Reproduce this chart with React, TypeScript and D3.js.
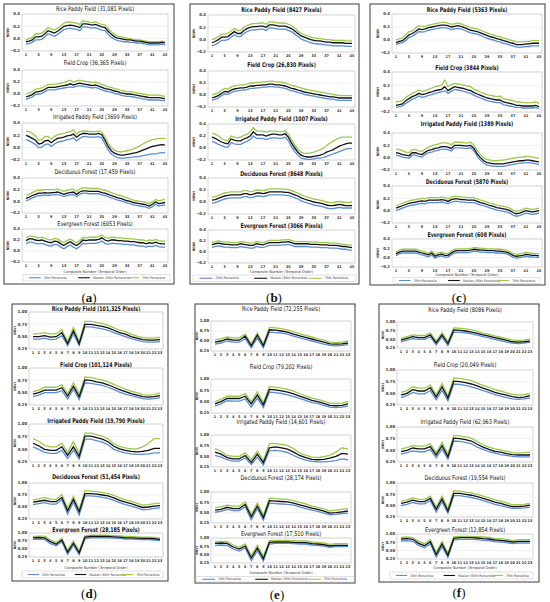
import React from 'react';
import * as d3 from 'd3';

// ---------- tick labels ----------
const X_TICKS_45 = [1, 5, 9, 13, 17, 21, 25, 29, 33, 37, 41, 45];
const X_TICKS_23 = [1, 2, 3, 4, 5, 6, 7, 8, 9, 10, 11, 12, 13, 14, 15, 16, 17, 18, 19, 20, 21, 22, 23];
const Y_TICKS_NDWI = [-0.2, 0.0, 0.2, 0.4];
const Y_TICKS_NDVI = [0.25, 0.5, 0.75, 1.0];

const CLASS_NAMES = ['Rice Paddy Field', 'Field Crop', 'Irrigated Paddy Field', 'Deciduous Forest', 'Evergreen Forest'];
const PIXELS_A = ['31,081', '36,365', '3699', '17,459', '6953'];
const PIXELS_B = ['8427', '26,830', '1007', '8648', '3066'];
const PIXELS_C = ['5363', '3844', '1389', '5870', '608'];
const PIXELS_D = ['101,325', '101,124', '19,790', '51,454', '28,185'];
const PIXELS_E = ['72,255', '79,202', '14,601', '28,174', '17,510'];
const PIXELS_F = ['8086', '20,049', '62,963', '19,554', '12,854'];

const LEGEND_LABELS = ['25th Percentile', 'Median (50th Percentile)', '75th Percentile'];

// ---------- panel (a) ----------
const aRice25 = [-0.09,-0.08,-0.06,-0.02,-0.02,-0.01,0.03,0.08,0.06,0.04,0.07,0.11,0.15,0.16,0.17,0.16,0.15,0.13,0.19,0.19,0.18,0.17,0.18,0.16,0.14,0.13,0.07,0.02,-0.01,-0.03,-0.04,-0.05,-0.05,-0.06,-0.06,-0.07,-0.07,-0.08,-0.09,-0.10,-0.10,-0.10,-0.10,-0.09,-0.10];
const aRice50 = [-0.05,-0.04,-0.02,0.03,0.03,0.04,0.08,0.13,0.11,0.09,0.12,0.16,0.20,0.21,0.22,0.21,0.20,0.18,0.24,0.24,0.23,0.22,0.23,0.21,0.19,0.18,0.12,0.07,0.03,0.01,0.00,-0.01,-0.02,-0.02,-0.03,-0.04,-0.04,-0.05,-0.06,-0.07,-0.07,-0.07,-0.07,-0.06,-0.07];
const aRice75 = [-0.02,0.00,0.02,0.08,0.08,0.09,0.13,0.18,0.16,0.14,0.17,0.21,0.25,0.27,0.27,0.26,0.25,0.23,0.29,0.28,0.27,0.26,0.27,0.25,0.23,0.22,0.16,0.11,0.07,0.04,0.03,0.02,0.01,0.00,-0.01,-0.02,-0.02,-0.03,-0.04,-0.05,-0.05,-0.05,-0.05,-0.04,-0.05];
const aCrop25 = [-0.09,-0.07,-0.05,-0.01,0.00,0.01,0.04,0.07,0.07,0.07,0.08,0.09,0.10,0.11,0.12,0.11,0.13,0.14,0.13,0.12,0.11,0.10,0.11,0.09,0.07,0.05,0.04,0.03,0.01,0.00,-0.02,-0.03,-0.04,-0.04,-0.05,-0.06,-0.07,-0.08,-0.09,-0.10,-0.10,-0.10,-0.10,-0.11,-0.11];
const aCrop50 = [-0.05,-0.03,-0.01,0.03,0.04,0.05,0.08,0.11,0.11,0.11,0.12,0.13,0.14,0.15,0.17,0.15,0.17,0.18,0.17,0.16,0.15,0.14,0.15,0.13,0.11,0.09,0.08,0.07,0.05,0.04,0.02,0.01,0.00,0.00,-0.01,-0.02,-0.03,-0.04,-0.05,-0.06,-0.06,-0.06,-0.06,-0.07,-0.08];
const aCrop75 = [0.00,0.02,0.04,0.08,0.09,0.10,0.13,0.16,0.16,0.16,0.17,0.18,0.19,0.21,0.23,0.20,0.22,0.23,0.22,0.21,0.20,0.19,0.20,0.18,0.16,0.14,0.12,0.11,0.09,0.08,0.06,0.05,0.04,0.04,0.03,0.02,0.01,0.00,-0.01,-0.02,-0.02,-0.02,-0.02,-0.03,-0.04];
const aIrr25 = [0.13,0.11,0.08,0.05,0.00,0.01,0.05,0.06,0.02,0.06,0.09,0.10,0.11,0.13,0.14,0.16,0.11,0.15,0.18,0.18,0.17,0.17,0.17,0.18,0.16,0.06,-0.04,-0.10,-0.14,-0.16,-0.17,-0.17,-0.16,-0.16,-0.15,-0.15,-0.14,-0.13,-0.12,-0.11,-0.10,-0.10,-0.09,-0.08,-0.08];
const aIrr50 = [0.20,0.18,0.15,0.12,0.06,0.07,0.11,0.12,0.08,0.12,0.15,0.16,0.17,0.19,0.20,0.22,0.17,0.21,0.23,0.23,0.22,0.22,0.22,0.23,0.21,0.12,0.02,-0.05,-0.09,-0.11,-0.12,-0.12,-0.11,-0.10,-0.09,-0.08,-0.06,-0.04,-0.02,0.00,0.02,0.03,0.04,0.05,0.04];
const aIrr75 = [0.27,0.26,0.23,0.19,0.12,0.13,0.18,0.18,0.14,0.18,0.21,0.22,0.23,0.25,0.26,0.29,0.22,0.26,0.27,0.27,0.26,0.26,0.26,0.27,0.25,0.17,0.07,0.00,-0.04,-0.06,-0.07,-0.06,-0.05,-0.04,-0.02,0.00,0.03,0.06,0.09,0.11,0.13,0.14,0.15,0.15,0.15];
const aDec25 = [0.01,0.03,0.06,0.08,0.10,0.10,0.11,0.10,0.11,0.11,0.12,0.10,0.08,0.10,0.11,0.12,0.08,0.12,0.14,0.14,0.13,0.13,0.13,0.13,0.11,0.10,0.08,0.06,0.04,0.02,0.01,-0.01,-0.03,-0.04,-0.06,-0.07,-0.08,-0.09,-0.10,-0.12,-0.09,-0.05,-0.08,-0.07,-0.06];
const aDec50 = [0.05,0.07,0.10,0.12,0.14,0.14,0.15,0.14,0.15,0.15,0.16,0.14,0.12,0.14,0.15,0.16,0.12,0.16,0.18,0.18,0.17,0.17,0.17,0.17,0.15,0.14,0.12,0.10,0.08,0.06,0.05,0.03,0.01,0.00,-0.02,-0.03,-0.04,-0.05,-0.06,-0.08,-0.05,-0.01,-0.04,-0.03,-0.02];
const aDec75 = [0.10,0.12,0.15,0.18,0.19,0.19,0.20,0.20,0.20,0.20,0.21,0.19,0.17,0.19,0.20,0.21,0.17,0.21,0.23,0.23,0.22,0.22,0.22,0.22,0.20,0.19,0.17,0.15,0.13,0.11,0.10,0.08,0.06,0.04,0.02,0.01,0.00,-0.01,-0.02,-0.04,-0.01,0.03,0.01,0.02,0.04];
const aEvg25 = [0.13,0.16,0.16,0.14,0.13,0.14,0.12,0.10,0.09,0.12,0.11,0.07,0.04,0.08,0.11,0.07,0.04,0.08,0.14,0.13,0.14,0.14,0.14,0.15,0.18,0.14,0.12,0.14,0.14,0.13,0.13,0.12,0.12,0.11,0.11,0.10,0.09,0.09,0.07,0.09,0.08,0.10,0.08,0.07,0.07];
const aEvg50 = [0.19,0.22,0.22,0.20,0.19,0.20,0.18,0.16,0.15,0.18,0.17,0.13,0.10,0.14,0.17,0.13,0.10,0.14,0.20,0.19,0.20,0.20,0.20,0.21,0.24,0.20,0.18,0.20,0.20,0.19,0.19,0.18,0.18,0.17,0.17,0.16,0.15,0.15,0.13,0.15,0.14,0.16,0.14,0.13,0.13];
const aEvg75 = [0.24,0.27,0.27,0.25,0.24,0.25,0.23,0.21,0.20,0.23,0.22,0.18,0.15,0.19,0.22,0.18,0.15,0.19,0.25,0.24,0.25,0.25,0.25,0.26,0.29,0.25,0.23,0.25,0.25,0.24,0.24,0.23,0.23,0.22,0.22,0.21,0.20,0.20,0.18,0.20,0.19,0.21,0.19,0.18,0.18];

// ---------- panel (b) ----------
const bRice25 = [-0.10,-0.08,-0.05,-0.01,-0.01,0.00,0.04,0.08,0.05,0.05,0.10,0.13,0.15,0.16,0.16,0.17,0.17,0.15,0.19,0.19,0.18,0.17,0.17,0.17,0.15,0.13,0.09,0.05,0.01,-0.01,-0.03,-0.05,-0.06,-0.07,-0.07,-0.08,-0.09,-0.09,-0.10,-0.10,-0.10,-0.10,-0.11,-0.11,-0.11];
const bRice50 = [-0.05,-0.03,0.00,0.04,0.04,0.05,0.09,0.13,0.10,0.10,0.15,0.18,0.20,0.21,0.21,0.22,0.22,0.20,0.24,0.24,0.23,0.22,0.22,0.22,0.20,0.18,0.14,0.10,0.06,0.04,0.02,0.00,-0.01,-0.02,-0.02,-0.03,-0.04,-0.04,-0.05,-0.05,-0.05,-0.05,-0.06,-0.06,-0.06];
const bRice75 = [0.00,0.02,0.05,0.09,0.09,0.10,0.14,0.18,0.15,0.15,0.20,0.23,0.25,0.26,0.26,0.27,0.27,0.25,0.29,0.29,0.28,0.27,0.27,0.27,0.25,0.23,0.19,0.14,0.10,0.08,0.06,0.04,0.03,0.02,0.02,0.01,0.00,0.00,-0.01,-0.01,-0.01,-0.01,-0.02,-0.02,-0.02];
const bCrop25 = [-0.09,-0.07,-0.05,-0.01,0.02,0.01,0.04,0.06,0.07,0.08,0.08,0.09,0.11,0.11,0.12,0.12,0.13,0.13,0.14,0.14,0.13,0.13,0.12,0.11,0.09,0.07,0.06,0.04,0.03,0.01,0.00,-0.01,-0.02,-0.03,-0.04,-0.05,-0.06,-0.07,-0.07,-0.08,-0.09,-0.09,-0.09,-0.09,-0.09];
const bCrop50 = [-0.05,-0.03,-0.01,0.03,0.06,0.05,0.08,0.10,0.11,0.12,0.12,0.13,0.15,0.15,0.16,0.16,0.17,0.17,0.18,0.18,0.17,0.17,0.16,0.15,0.13,0.11,0.10,0.08,0.07,0.05,0.04,0.03,0.02,0.01,0.00,-0.01,-0.02,-0.03,-0.03,-0.04,-0.05,-0.05,-0.05,-0.05,-0.05];
const bCrop75 = [0.00,0.02,0.04,0.08,0.11,0.10,0.13,0.15,0.16,0.17,0.17,0.18,0.20,0.20,0.21,0.21,0.22,0.22,0.23,0.23,0.22,0.22,0.21,0.20,0.18,0.16,0.15,0.13,0.12,0.10,0.09,0.08,0.07,0.06,0.05,0.04,0.03,0.02,0.01,0.00,-0.01,-0.01,-0.01,-0.01,-0.01];
const bIrr25 = [0.11,0.09,0.06,0.04,0.02,0.01,0.09,0.07,0.06,0.06,0.09,0.11,0.14,0.20,0.16,0.16,0.16,0.14,0.16,0.17,0.17,0.16,0.16,0.18,0.12,0.02,-0.06,-0.12,-0.17,-0.18,-0.19,-0.19,-0.18,-0.17,-0.17,-0.16,-0.14,-0.12,-0.10,-0.08,-0.06,-0.04,-0.02,-0.01,-0.01];
const bIrr50 = [0.18,0.16,0.13,0.10,0.08,0.07,0.15,0.13,0.12,0.12,0.15,0.17,0.20,0.27,0.22,0.22,0.22,0.20,0.22,0.23,0.23,0.22,0.22,0.24,0.18,0.08,0.00,-0.07,-0.12,-0.14,-0.15,-0.15,-0.14,-0.13,-0.12,-0.10,-0.07,-0.05,-0.03,0.00,0.03,0.05,0.07,0.08,0.08];
const bIrr75 = [0.25,0.23,0.20,0.16,0.13,0.12,0.20,0.18,0.17,0.18,0.21,0.23,0.27,0.34,0.28,0.28,0.28,0.26,0.28,0.28,0.28,0.27,0.27,0.29,0.23,0.13,0.05,-0.02,-0.07,-0.09,-0.09,-0.08,-0.07,-0.05,-0.03,0.00,0.04,0.08,0.11,0.14,0.17,0.18,0.18,0.18,0.18];
const bDec25 = [-0.02,-0.01,0.01,0.03,0.05,0.06,0.07,0.07,0.07,0.07,0.09,0.09,0.07,0.08,0.10,0.10,0.09,0.10,0.12,0.12,0.12,0.12,0.12,0.11,0.11,0.09,0.07,0.05,0.02,0.00,-0.02,-0.03,-0.05,-0.06,-0.07,-0.08,-0.10,-0.11,-0.11,-0.10,-0.09,-0.10,-0.10,-0.10,-0.10];
const bDec50 = [0.03,0.04,0.06,0.08,0.10,0.11,0.12,0.12,0.12,0.12,0.14,0.14,0.12,0.13,0.15,0.15,0.14,0.15,0.17,0.17,0.17,0.17,0.17,0.16,0.16,0.14,0.12,0.10,0.07,0.05,0.03,0.02,0.00,-0.01,-0.02,-0.03,-0.05,-0.06,-0.06,-0.05,-0.04,-0.05,-0.06,-0.06,-0.06];
const bDec75 = [0.08,0.09,0.11,0.13,0.15,0.16,0.17,0.17,0.17,0.17,0.19,0.19,0.17,0.18,0.20,0.20,0.19,0.20,0.22,0.22,0.22,0.22,0.22,0.21,0.21,0.19,0.17,0.15,0.12,0.10,0.08,0.07,0.05,0.04,0.03,0.02,0.00,-0.01,-0.01,0.00,0.01,0.00,-0.01,-0.01,0.00];
const bEvg25 = [0.08,0.10,0.11,0.10,0.09,0.09,0.08,0.08,0.08,0.10,0.09,0.08,0.07,0.07,0.10,0.09,0.08,0.10,0.12,0.12,0.12,0.12,0.13,0.13,0.14,0.12,0.10,0.10,0.10,0.10,0.10,0.09,0.09,0.09,0.08,0.08,0.08,0.07,0.07,0.07,0.06,0.05,0.05,0.04,0.03];
const bEvg50 = [0.13,0.15,0.16,0.15,0.14,0.14,0.13,0.13,0.13,0.15,0.14,0.13,0.12,0.12,0.15,0.14,0.13,0.15,0.17,0.17,0.17,0.17,0.18,0.18,0.19,0.17,0.15,0.15,0.15,0.15,0.15,0.14,0.14,0.14,0.13,0.13,0.13,0.12,0.12,0.12,0.11,0.10,0.10,0.09,0.08];
const bEvg75 = [0.17,0.19,0.20,0.19,0.18,0.18,0.17,0.17,0.17,0.19,0.18,0.17,0.16,0.16,0.19,0.18,0.17,0.19,0.21,0.21,0.21,0.21,0.22,0.22,0.23,0.21,0.19,0.19,0.19,0.19,0.19,0.18,0.18,0.18,0.17,0.17,0.17,0.16,0.16,0.16,0.15,0.14,0.14,0.13,0.12];

// ---------- panel (c) ----------
const cRice25 = [-0.07,-0.05,-0.04,-0.01,0.04,0.06,0.09,0.13,0.12,0.13,0.15,0.16,0.17,0.18,0.19,0.19,0.18,0.16,0.17,0.18,0.17,0.15,0.13,0.11,0.10,0.09,0.07,0.05,0.03,0.01,0.00,-0.02,-0.03,-0.05,-0.06,-0.08,-0.09,-0.11,-0.11,-0.11,-0.10,-0.10,-0.09,-0.09,-0.09];
const cRice50 = [-0.04,-0.02,-0.01,0.03,0.08,0.10,0.13,0.17,0.16,0.17,0.19,0.20,0.21,0.22,0.23,0.23,0.22,0.20,0.21,0.22,0.21,0.19,0.17,0.15,0.14,0.13,0.11,0.09,0.07,0.05,0.04,0.02,0.01,-0.01,-0.02,-0.04,-0.05,-0.07,-0.07,-0.07,-0.06,-0.06,-0.05,-0.05,-0.05];
const cRice75 = [0.00,0.02,0.03,0.08,0.13,0.14,0.18,0.22,0.21,0.21,0.23,0.24,0.25,0.26,0.27,0.27,0.26,0.24,0.25,0.26,0.25,0.23,0.21,0.19,0.18,0.17,0.15,0.13,0.11,0.09,0.08,0.06,0.05,0.03,0.02,0.00,-0.01,-0.03,-0.03,-0.03,-0.02,-0.02,-0.01,-0.01,-0.01];
const cCrop25 = [-0.13,-0.12,-0.11,-0.07,-0.04,-0.01,0.01,0.04,0.02,0.03,0.05,0.06,0.08,0.09,0.10,0.12,0.08,0.11,0.14,0.13,0.12,0.11,0.09,0.08,0.05,0.03,0.01,-0.01,-0.03,-0.04,-0.05,-0.06,-0.06,-0.09,-0.10,-0.11,-0.12,-0.13,-0.13,-0.14,-0.14,-0.14,-0.14,-0.13,-0.15];
const cCrop50 = [-0.10,-0.09,-0.08,-0.03,0.00,0.03,0.05,0.08,0.06,0.07,0.09,0.10,0.12,0.13,0.14,0.18,0.12,0.15,0.18,0.17,0.16,0.15,0.13,0.12,0.09,0.07,0.05,0.03,0.01,0.00,-0.01,-0.02,-0.02,-0.05,-0.06,-0.07,-0.08,-0.10,-0.10,-0.11,-0.11,-0.11,-0.11,-0.10,-0.12];
const cCrop75 = [-0.05,-0.04,-0.03,0.02,0.05,0.08,0.10,0.13,0.11,0.12,0.14,0.16,0.18,0.19,0.20,0.28,0.18,0.21,0.23,0.22,0.21,0.20,0.19,0.18,0.14,0.12,0.10,0.08,0.06,0.05,0.04,0.03,0.04,0.00,-0.01,-0.02,-0.03,-0.05,-0.05,-0.06,-0.06,-0.06,-0.06,-0.05,-0.07];
const cIrr25 = [0.04,0.03,0.01,0.00,-0.01,0.04,0.04,0.02,0.01,0.05,0.08,0.09,0.11,0.12,0.14,0.14,0.13,0.11,0.16,0.16,0.16,0.15,0.15,0.16,0.11,0.02,-0.04,-0.09,-0.12,-0.13,-0.14,-0.14,-0.14,-0.14,-0.13,-0.12,-0.11,-0.10,-0.09,-0.09,-0.08,-0.08,-0.09,-0.10,-0.11];
const cIrr50 = [0.08,0.07,0.05,0.04,0.03,0.08,0.08,0.06,0.05,0.09,0.12,0.13,0.15,0.16,0.18,0.18,0.17,0.15,0.20,0.20,0.20,0.19,0.19,0.20,0.15,0.06,0.00,-0.05,-0.08,-0.09,-0.10,-0.10,-0.10,-0.10,-0.09,-0.08,-0.07,-0.06,-0.05,-0.05,-0.04,-0.04,-0.05,-0.06,-0.07];
const cIrr75 = [0.14,0.13,0.11,0.09,0.08,0.13,0.13,0.11,0.10,0.14,0.17,0.19,0.21,0.22,0.24,0.24,0.23,0.21,0.25,0.25,0.25,0.24,0.24,0.25,0.20,0.11,0.05,0.00,-0.03,-0.04,-0.05,-0.05,-0.04,-0.04,-0.03,-0.02,-0.01,0.00,0.01,0.01,0.02,0.02,0.01,0.00,-0.01];
const cDec25 = [0.00,0.02,0.04,0.06,0.08,0.09,0.10,0.11,0.12,0.11,0.13,0.13,0.13,0.13,0.14,0.13,0.11,0.14,0.15,0.15,0.14,0.14,0.13,0.13,0.13,0.11,0.09,0.08,0.06,0.04,0.03,0.01,0.00,-0.01,-0.02,-0.04,-0.07,-0.09,-0.08,-0.06,-0.04,-0.05,-0.06,-0.05,-0.04];
const cDec50 = [0.04,0.06,0.08,0.10,0.12,0.13,0.14,0.15,0.16,0.15,0.17,0.17,0.17,0.17,0.18,0.17,0.15,0.18,0.19,0.19,0.18,0.18,0.17,0.17,0.17,0.15,0.13,0.12,0.10,0.08,0.07,0.05,0.04,0.03,0.02,0.00,-0.03,-0.05,-0.04,-0.02,0.00,-0.01,-0.02,-0.01,0.00];
const cDec75 = [0.08,0.10,0.12,0.14,0.16,0.17,0.18,0.19,0.20,0.19,0.21,0.21,0.21,0.21,0.22,0.21,0.19,0.22,0.23,0.23,0.22,0.22,0.21,0.21,0.21,0.19,0.17,0.16,0.14,0.12,0.11,0.09,0.08,0.07,0.06,0.04,0.01,-0.01,0.00,0.02,0.04,0.03,0.02,0.03,0.04];
const cEvg25 = [0.04,0.08,0.10,0.10,0.10,0.10,0.10,0.08,0.06,0.04,0.02,0.06,-0.01,0.02,0.04,0.01,0.01,0.06,0.10,0.11,0.11,0.11,0.11,0.12,0.14,0.13,0.12,0.12,0.11,0.11,0.11,0.10,0.10,0.09,0.08,0.05,0.01,-0.01,0.00,0.01,0.03,0.02,0.01,0.01,0.00];
const cEvg50 = [0.08,0.12,0.14,0.14,0.14,0.14,0.14,0.12,0.10,0.08,0.06,0.10,0.03,0.06,0.08,0.05,0.05,0.10,0.14,0.15,0.15,0.15,0.15,0.16,0.18,0.17,0.16,0.16,0.15,0.15,0.15,0.14,0.14,0.13,0.12,0.09,0.05,0.03,0.04,0.05,0.07,0.06,0.05,0.05,0.04];
const cEvg75 = [0.12,0.16,0.18,0.18,0.18,0.18,0.18,0.16,0.14,0.12,0.10,0.14,0.07,0.10,0.12,0.09,0.09,0.14,0.18,0.19,0.19,0.19,0.19,0.20,0.22,0.21,0.20,0.20,0.19,0.19,0.19,0.18,0.18,0.17,0.16,0.13,0.09,0.07,0.08,0.09,0.11,0.10,0.09,0.09,0.08];

// ---------- panel (d) ----------
const dRice25 = [0.45,0.45,0.47,0.44,0.45,0.52,0.32,0.56,0.32,0.70,0.70,0.68,0.66,0.63,0.58,0.54,0.50,0.46,0.43,0.40,0.39,0.39,0.40];
const dRice50 = [0.50,0.50,0.52,0.49,0.50,0.58,0.36,0.62,0.36,0.75,0.75,0.73,0.71,0.68,0.63,0.58,0.55,0.50,0.47,0.44,0.43,0.43,0.44];
const dRice75 = [0.55,0.56,0.58,0.55,0.56,0.64,0.40,0.68,0.40,0.81,0.81,0.79,0.77,0.73,0.68,0.63,0.60,0.55,0.51,0.48,0.47,0.47,0.48];
const dCrop25 = [0.42,0.45,0.50,0.50,0.50,0.54,0.37,0.57,0.36,0.70,0.69,0.67,0.65,0.61,0.56,0.51,0.47,0.44,0.41,0.38,0.37,0.38,0.40];
const dCrop50 = [0.47,0.50,0.55,0.55,0.55,0.60,0.43,0.63,0.42,0.76,0.75,0.72,0.70,0.66,0.61,0.56,0.52,0.48,0.45,0.42,0.41,0.42,0.44];
const dCrop75 = [0.52,0.55,0.61,0.61,0.61,0.66,0.48,0.70,0.47,0.82,0.81,0.78,0.76,0.72,0.67,0.62,0.57,0.53,0.50,0.46,0.45,0.46,0.49];
const dIrr25 = [0.55,0.50,0.44,0.42,0.42,0.48,0.32,0.48,0.31,0.70,0.70,0.67,0.64,0.59,0.50,0.46,0.43,0.41,0.40,0.40,0.41,0.43,0.43];
const dIrr50 = [0.62,0.57,0.50,0.48,0.48,0.55,0.38,0.55,0.36,0.76,0.76,0.73,0.70,0.65,0.56,0.51,0.48,0.46,0.45,0.46,0.48,0.52,0.52];
const dIrr75 = [0.71,0.66,0.58,0.55,0.55,0.62,0.44,0.65,0.42,0.82,0.82,0.79,0.76,0.71,0.61,0.56,0.53,0.51,0.51,0.55,0.62,0.71,0.71];
const dDec25 = [0.55,0.57,0.59,0.56,0.56,0.65,0.35,0.60,0.33,0.73,0.73,0.72,0.70,0.68,0.64,0.59,0.55,0.52,0.48,0.44,0.45,0.47,0.48];
const dDec50 = [0.60,0.62,0.64,0.61,0.61,0.70,0.42,0.66,0.40,0.78,0.78,0.77,0.75,0.73,0.69,0.64,0.60,0.57,0.53,0.49,0.50,0.52,0.53];
const dDec75 = [0.65,0.67,0.70,0.66,0.66,0.76,0.48,0.72,0.45,0.84,0.83,0.82,0.80,0.78,0.74,0.69,0.65,0.62,0.58,0.54,0.55,0.57,0.58];
const dEvg25 = [0.80,0.81,0.80,0.67,0.60,0.73,0.33,0.62,0.32,0.82,0.85,0.85,0.85,0.85,0.84,0.83,0.81,0.81,0.80,0.79,0.79,0.78,0.76];
const dEvg50 = [0.85,0.86,0.85,0.73,0.65,0.78,0.40,0.68,0.38,0.87,0.89,0.89,0.89,0.89,0.88,0.87,0.85,0.85,0.84,0.83,0.83,0.82,0.80];
const dEvg75 = [0.89,0.90,0.90,0.79,0.71,0.83,0.46,0.75,0.45,0.91,0.93,0.93,0.93,0.93,0.92,0.91,0.89,0.89,0.88,0.87,0.87,0.86,0.84];

// ---------- panel (e) ----------
const eRice25 = [0.42,0.45,0.50,0.47,0.47,0.56,0.33,0.58,0.33,0.72,0.71,0.70,0.67,0.62,0.58,0.54,0.50,0.46,0.42,0.39,0.38,0.39,0.41];
const eRice50 = [0.47,0.50,0.55,0.52,0.52,0.62,0.38,0.65,0.38,0.78,0.77,0.75,0.72,0.67,0.63,0.59,0.55,0.51,0.47,0.43,0.42,0.43,0.45];
const eRice75 = [0.53,0.56,0.60,0.58,0.58,0.67,0.43,0.70,0.43,0.84,0.83,0.81,0.78,0.73,0.68,0.64,0.60,0.56,0.52,0.47,0.46,0.47,0.50];
const eCrop25 = [0.40,0.45,0.52,0.51,0.51,0.56,0.38,0.58,0.37,0.71,0.70,0.68,0.65,0.61,0.57,0.53,0.48,0.46,0.42,0.38,0.37,0.38,0.40];
const eCrop50 = [0.45,0.50,0.57,0.57,0.57,0.62,0.45,0.65,0.43,0.77,0.76,0.74,0.71,0.67,0.62,0.58,0.53,0.50,0.46,0.42,0.41,0.42,0.45];
const eCrop75 = [0.50,0.55,0.62,0.62,0.62,0.68,0.50,0.72,0.48,0.83,0.82,0.80,0.77,0.73,0.68,0.63,0.58,0.55,0.51,0.47,0.46,0.47,0.50];
const eIrr25 = [0.52,0.48,0.42,0.39,0.39,0.46,0.31,0.48,0.30,0.63,0.64,0.62,0.59,0.52,0.46,0.41,0.38,0.37,0.37,0.38,0.40,0.44,0.42];
const eIrr50 = [0.60,0.55,0.47,0.44,0.44,0.52,0.36,0.55,0.35,0.70,0.72,0.70,0.67,0.60,0.52,0.47,0.43,0.42,0.43,0.46,0.50,0.57,0.55];
const eIrr75 = [0.68,0.62,0.52,0.50,0.50,0.58,0.42,0.62,0.40,0.80,0.80,0.78,0.75,0.68,0.58,0.53,0.48,0.47,0.49,0.53,0.60,0.70,0.67];
const eDec25 = [0.51,0.53,0.58,0.55,0.55,0.64,0.33,0.60,0.32,0.73,0.72,0.71,0.70,0.68,0.64,0.60,0.56,0.53,0.49,0.45,0.46,0.48,0.49];
const eDec50 = [0.56,0.58,0.63,0.60,0.60,0.70,0.40,0.66,0.38,0.79,0.78,0.77,0.76,0.73,0.69,0.65,0.61,0.58,0.54,0.49,0.50,0.52,0.54];
const eDec75 = [0.62,0.64,0.68,0.66,0.66,0.76,0.46,0.73,0.44,0.85,0.84,0.83,0.82,0.79,0.75,0.71,0.66,0.63,0.59,0.54,0.56,0.58,0.60];
const eEvg25 = [0.78,0.79,0.78,0.67,0.61,0.70,0.32,0.62,0.31,0.82,0.84,0.84,0.84,0.83,0.82,0.82,0.79,0.78,0.76,0.72,0.74,0.74,0.74];
const eEvg50 = [0.84,0.85,0.84,0.73,0.67,0.76,0.40,0.70,0.38,0.87,0.88,0.88,0.88,0.87,0.86,0.86,0.83,0.82,0.80,0.76,0.78,0.78,0.78];
const eEvg75 = [0.89,0.90,0.89,0.79,0.72,0.82,0.47,0.78,0.45,0.92,0.93,0.93,0.93,0.92,0.91,0.91,0.88,0.87,0.85,0.81,0.83,0.83,0.83];

// ---------- panel (f) ----------
const fRice25 = [0.43,0.48,0.52,0.50,0.50,0.57,0.34,0.57,0.32,0.71,0.70,0.69,0.66,0.62,0.58,0.54,0.50,0.46,0.42,0.39,0.38,0.39,0.41];
const fRice50 = [0.48,0.53,0.58,0.55,0.55,0.63,0.40,0.63,0.38,0.77,0.76,0.74,0.71,0.67,0.63,0.59,0.55,0.51,0.47,0.43,0.42,0.43,0.45];
const fRice75 = [0.53,0.58,0.63,0.61,0.61,0.69,0.45,0.69,0.44,0.83,0.82,0.80,0.77,0.73,0.68,0.64,0.60,0.56,0.52,0.48,0.47,0.48,0.51];
const fCrop25 = [0.41,0.45,0.52,0.49,0.49,0.56,0.36,0.57,0.34,0.70,0.69,0.67,0.64,0.60,0.56,0.52,0.47,0.44,0.41,0.38,0.37,0.38,0.40];
const fCrop50 = [0.46,0.50,0.58,0.55,0.55,0.62,0.42,0.64,0.40,0.76,0.75,0.73,0.70,0.66,0.61,0.57,0.52,0.49,0.46,0.43,0.41,0.42,0.45];
const fCrop75 = [0.52,0.56,0.64,0.61,0.61,0.68,0.47,0.71,0.45,0.83,0.82,0.80,0.77,0.72,0.67,0.63,0.58,0.55,0.51,0.48,0.46,0.47,0.50];
const fIrr25 = [0.42,0.45,0.49,0.47,0.47,0.52,0.34,0.53,0.31,0.70,0.69,0.67,0.64,0.57,0.52,0.47,0.44,0.41,0.39,0.37,0.36,0.36,0.36];
const fIrr50 = [0.47,0.50,0.55,0.53,0.53,0.58,0.40,0.60,0.36,0.76,0.75,0.73,0.70,0.63,0.57,0.52,0.48,0.46,0.43,0.41,0.40,0.40,0.40];
const fIrr75 = [0.53,0.56,0.60,0.59,0.59,0.64,0.45,0.67,0.42,0.82,0.81,0.79,0.76,0.69,0.62,0.57,0.53,0.51,0.48,0.45,0.44,0.45,0.46];
const fDec25 = [0.50,0.53,0.57,0.54,0.54,0.61,0.36,0.59,0.33,0.72,0.72,0.70,0.68,0.65,0.61,0.57,0.53,0.50,0.47,0.44,0.44,0.45,0.47];
const fDec50 = [0.55,0.58,0.62,0.59,0.59,0.66,0.42,0.65,0.38,0.77,0.77,0.75,0.73,0.70,0.66,0.62,0.58,0.55,0.51,0.48,0.48,0.49,0.51];
const fDec75 = [0.60,0.63,0.67,0.64,0.64,0.71,0.47,0.71,0.44,0.83,0.82,0.80,0.78,0.75,0.71,0.67,0.63,0.60,0.56,0.52,0.52,0.53,0.55];
const fEvg25 = [0.79,0.80,0.78,0.66,0.59,0.71,0.31,0.62,0.30,0.82,0.84,0.84,0.84,0.83,0.81,0.80,0.77,0.76,0.74,0.71,0.73,0.73,0.73];
const fEvg50 = [0.85,0.86,0.84,0.72,0.65,0.77,0.38,0.70,0.36,0.87,0.89,0.89,0.89,0.88,0.86,0.85,0.82,0.81,0.79,0.76,0.78,0.78,0.78];
const fEvg75 = [0.90,0.91,0.89,0.78,0.71,0.83,0.45,0.78,0.43,0.92,0.93,0.93,0.93,0.92,0.91,0.90,0.87,0.86,0.84,0.81,0.83,0.83,0.83];

// ---------- styling ----------
const C25 = '#5a8dd3';
const C50 = '#111111';
const C75 = '#9cc84e';
const SANS = "'Liberation Sans Narrow', 'DejaVu Sans Condensed', 'Roboto Condensed', Arial, sans-serif";
const SERIF = "'Liberation Serif', 'DejaVu Serif', serif";

type Series = [number[], number[], number[]];
type Layout = {
  label: string;
  box: [number, number, number, number];
  plotL: number;
  plotR: number;
  rows: [number, number, number][]; // titleY, plotTop, plotBottom
  xlabelY: number;
  legend: [number, number, number, number]; // x0, y0, x1, y1
  labelXY: [number, number];
  titleWeight: string;
  titleScale: number;
};

type PanelDef = {
  layout: Layout;
  kind: 'ndwi' | 'ndvi';
  pixels: string[];
  series: Series[];
};

const PANELS: PanelDef[] = [
  {
    kind: 'ndwi', pixels: PIXELS_A,
    series: [[aRice25, aRice50, aRice75], [aCrop25, aCrop50, aCrop75], [aIrr25, aIrr50, aIrr75], [aDec25, aDec50, aDec75], [aEvg25, aEvg50, aEvg75]],
    layout: { label: 'a', box: [4, 4, 174, 284], plotL: 22, plotR: 168,
      rows: [[9, 14, 51], [63, 70, 106], [117, 123, 160], [172, 178, 213], [224, 229, 262]],
      xlabelY: 272, legend: [23, 274.5, 170, 281], labelXY: [89, 297], titleWeight: 'normal', titleScale: 0.86 },
  },
  {
    kind: 'ndwi', pixels: PIXELS_B,
    series: [[bRice25, bRice50, bRice75], [bCrop25, bCrop50, bCrop75], [bIrr25, bIrr50, bIrr75], [bDec25, bDec50, bDec75], [bEvg25, bEvg50, bEvg75]],
    layout: { label: 'b', box: [190, 4, 359, 284], plotL: 208, plotR: 355,
      rows: [[10, 15, 52], [65, 71, 107], [119, 124, 160], [174, 178, 214], [226, 230, 263]],
      xlabelY: 272, legend: [193, 275, 356, 281.5], labelXY: [274, 297], titleWeight: 'bold', titleScale: 0.82 },
  },
  {
    kind: 'ndwi', pixels: PIXELS_C,
    series: [[cRice25, cRice50, cRice75], [cCrop25, cCrop50, cCrop75], [cIrr25, cIrr50, cIrr75], [cDec25, cDec50, cDec75], [cEvg25, cEvg50, cEvg75]],
    layout: { label: 'c', box: [370, 4, 545, 285], plotL: 392, plotR: 542,
      rows: [[10, 14, 53], [68, 72, 112], [124, 133, 170], [182, 186, 223], [235, 239, 267]],
      xlabelY: 275, legend: [393, 277.5, 540, 283.5], labelXY: [459, 297], titleWeight: 'bold', titleScale: 0.82 },
  },
  {
    kind: 'ndvi', pixels: PIXELS_D,
    series: [[dRice25, dRice50, dRice75], [dCrop25, dCrop50, dCrop75], [dIrr25, dIrr50, dIrr75], [dDec25, dDec50, dDec75], [dEvg25, dEvg50, dEvg75]],
    layout: { label: 'd', box: [12, 304, 168, 581], plotL: 29, plotR: 163,
      rows: [[309, 312, 349], [365, 368, 405], [421, 424, 462], [477, 483, 519], [529.5, 533, 557]],
      xlabelY: 568, legend: [22, 571, 163, 578], labelXY: [89, 593], titleWeight: '600', titleScale: 0.82 },
  },
  {
    kind: 'ndvi', pixels: PIXELS_E,
    series: [[eRice25, eRice50, eRice75], [eCrop25, eCrop50, eCrop75], [eIrr25, eIrr50, eIrr75], [eDec25, eDec50, eDec75], [eEvg25, eEvg50, eEvg75]],
    layout: { label: 'e', box: [195, 304, 355, 583], plotL: 211, plotR: 351,
      rows: [[309, 321, 351], [367, 379, 413], [422, 435, 467], [478, 492, 523], [534, 538, 563]],
      xlabelY: 573, legend: [196, 576.5, 354, 582], labelXY: [277, 594], titleWeight: 'normal', titleScale: 0.86 },
  },
  {
    kind: 'ndvi', pixels: PIXELS_F,
    series: [[fRice25, fRice50, fRice75], [fCrop25, fCrop50, fCrop75], [fIrr25, fIrr50, fIrr75], [fDec25, fDec50, fDec75], [fEvg25, fEvg50, fEvg75]],
    layout: { label: 'f', box: [379, 304, 539, 582], plotL: 397, plotR: 533,
      rows: [[310, 322, 348], [365, 370, 405], [422, 427, 462], [478, 483, 517], [530, 534, 559]],
      xlabelY: 568, legend: [390, 572, 533, 579], labelXY: [459, 592], titleWeight: 'normal', titleScale: 0.86 },
  },
];

function Subplot({ def, idx }: { def: PanelDef; idx: number }) {
  const L = def.layout;
  const [titleY, top, bottom] = L.rows[idx];
  const isW = def.kind === 'ndwi';
  const n = isW ? 45 : 23;
  const xTicks = isW ? X_TICKS_45 : X_TICKS_23;
  const yTicks = isW ? Y_TICKS_NDWI : Y_TICKS_NDVI;
  const fmt = d3.format(isW ? '.1f' : '.2f');
  const x = d3.scaleLinear().domain([1, n]).range([L.plotL + 4, L.plotR - 3]);
  const y = d3.scaleLinear().domain(isW ? [-0.2, 0.4] : [0.25, 1.0]).range([bottom, top]);
  const line = d3.line<number>().x((_, i) => x(i + 1)).y((v) => y(v));
  const [s25, s50, s75] = def.series[idx];
  const cx = (L.plotL + L.plotR) / 2;
  return (
    <g>
      <text transform={`translate(${cx},${titleY}) scale(${L.titleScale},1)`} dy="0.35em" textAnchor="middle" fontFamily={SANS} fontSize={6.4}
        fontWeight={L.titleWeight} fill="#111">
        {`${CLASS_NAMES[idx]} (${def.pixels[idx]} Pixels)`}
      </text>
      <rect x={L.plotL} y={top} width={L.plotR - L.plotL} height={bottom - top} fill="#fff" stroke="#b9b9b9" strokeWidth={0.6} />
      {yTicks.map((t) => (
        <g key={t}>
          <line x1={L.plotL} x2={L.plotR} y1={y(t)} y2={y(t)} stroke="#e2e2e2" strokeWidth={0.5} />
          <text x={L.plotL - 2} y={y(t)} dy="0.35em" textAnchor="end" fontFamily={SANS} fontSize={4.2} fontWeight="bold" fill="#333">
            {fmt(t)}
          </text>
        </g>
      ))}
      {xTicks.map((t) => (
        <text key={t} x={x(t)} y={bottom + 4} dy="0.35em" textAnchor="middle" fontFamily={SANS} fontSize={3.8} fontWeight="bold" fill="#333">
          {t}
        </text>
      ))}
      <text transform={`translate(${L.plotL - 14},${(top + bottom) / 2}) rotate(-90)`} textAnchor="middle" dy="0.35em"
        fontFamily={SANS} fontSize={3.4} fontWeight="bold" fill="#333">
        {isW ? 'NDWI' : 'NDVI'}
      </text>
      <path d={line(s25) || ''} fill="none" stroke={C25} strokeWidth={1.3} />
      <path d={line(s75) || ''} fill="none" stroke={C75} strokeWidth={1.3} />
      <path d={line(s50) || ''} fill="none" stroke={C50} strokeWidth={1.3} />
    </g>
  );
}

function Panel({ def }: { def: PanelDef }) {
  const L = def.layout;
  const [bx0, by0, bx1, by1] = L.box;
  const [lx0, ly0, lx1, ly1] = L.legend;
  const lw = lx1 - lx0;
  const ly = (ly0 + ly1) / 2;
  const colors = [C25, C50, C75];
  return (
    <g>
      <rect x={bx0} y={by0} width={bx1 - bx0} height={by1 - by0} fill="#fff" stroke="#3a3a3a" strokeWidth={1} />
      {[0, 1, 2, 3, 4].map((i) => (
        <Subplot key={i} def={def} idx={i} />
      ))}
      <text x={(L.plotL + L.plotR) / 2} y={L.xlabelY} dy="0.35em" textAnchor="middle" fontFamily={SANS} fontSize={3.8} fill="#333">
        Composite Number (Temporal Order)
      </text>
      <rect x={lx0} y={ly0} width={lw} height={ly1 - ly0} fill="#fff" stroke="#c4c4c4" strokeWidth={0.5} />
      {LEGEND_LABELS.map((lab, i) => {
        const sx = lx0 + lw * (0.04 + i * 0.335);
        return (
          <g key={lab}>
            <line x1={sx} x2={sx + lw * 0.08} y1={ly} y2={ly} stroke={colors[i]} strokeWidth={1.1} />
            <text x={sx + lw * 0.08 + 3} y={ly} dy="0.35em" fontFamily={SANS} fontSize={3.4} fill="#333">
              {lab}
            </text>
          </g>
        );
      })}
      <text x={L.labelXY[0]} y={L.labelXY[1]} dy="0.35em" textAnchor="middle" fontFamily={SERIF} fontSize={13} fill="#111">
        (<tspan fontWeight="bold">{L.label}</tspan>)
      </text>
    </g>
  );
}

export default function App() {
  return (
    <svg width={550} height={602} viewBox="0 0 550 602" style={{ position: 'absolute', left: 0, top: 0, background: '#fff' }}>
      <rect x={0} y={0} width={550} height={602} fill="#fff" />
      {PANELS.map((p) => (
        <Panel key={p.layout.label} def={p} />
      ))}
    </svg>
  );
}
